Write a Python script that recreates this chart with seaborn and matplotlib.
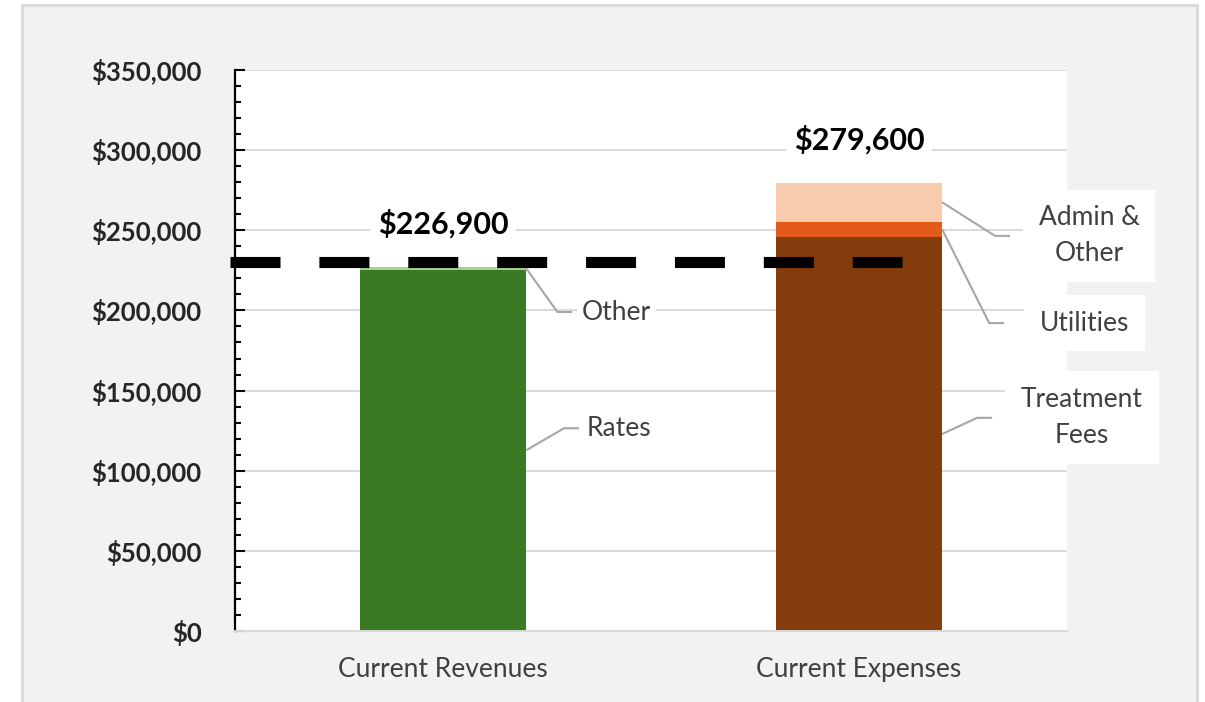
import numpy as np
import pandas as pd
import matplotlib
matplotlib.use("Agg")
import matplotlib.pyplot as plt
import seaborn as sns
from matplotlib.patches import Rectangle
from matplotlib.ticker import MultipleLocator, FuncFormatter

# Data
categories = ["Current Revenues", "Current Expenses"]
revenue_segments = ["Rates", "Other"]
revenue_values = [225500, 1400]
expense_segments = ["Treatment\nFees", "Utilities", "Admin &\nOther"]
expense_values = [245800, 9500, 24300]
target_value = 230000

revenue_colors = ["#3b7a24", "#a9d18e"]
expense_colors = ["#843c0c", "#e35b1a", "#f8cbad"]

# Build long table with stacking bottoms
rows = []
for cat, segs, vals, cols in [(categories[0], revenue_segments, revenue_values, revenue_colors),
                              (categories[1], expense_segments, expense_values, expense_colors)]:
    bottom = 0
    for s, v, c in zip(segs, vals, cols):
        rows.append(dict(category=cat, segment=s, value=v, bottom=bottom, color=c))
        bottom += v
seg_df = pd.DataFrame(rows)
totals = seg_df.groupby("category", sort=False)["value"].sum()

# Label layout: (elbow dx from bar edge, label y, text x, box pad)
label_layout = {
    "Other": (0.075, 199000, 0.417, 0.2),
    "Rates": (0.091, 126500, 0.422, 0.2),
    "Admin &\nOther": (0.127, 246500, 1.553, 0.6),
    "Utilities": (0.113, 192100, 1.543, 0.6),
    "Treatment\nFees": (0.084, 133000, 1.536, 0.6),
}
BAR_W = 0.4

sns.set_style("white")
plt.rcParams["font.family"] = ["Lato", "DejaVu Sans"]

fig = plt.figure(figsize=(12.05, 7.02), dpi=100, facecolor="white")
fig.patches.append(Rectangle((22 / 1205, -0.05), (1197 - 22) / 1205, (702 - 5) / 702 + 0.05,
                             transform=fig.transFigure, facecolor="#f2f2f2",
                             edgecolor="#d9d9d9", lw=2, zorder=-10))
ax = fig.add_axes([235 / 1205, 71 / 702, (1067 - 235) / 1205, (632 - 71) / 702])
ax.set_facecolor("white")

for r in seg_df.itertuples():
    sns.barplot(x=[r.category], y=[r.value], order=categories, color=r.color,
                width=BAR_W, bottom=r.bottom, saturation=1, errorbar=None,
                linewidth=0, edgecolor="none", ax=ax, zorder=2)

ax.set_xlim(-0.5, 1.5)
ax.set_ylim(0, 350000)
ax.yaxis.set_major_locator(MultipleLocator(50000))
ax.yaxis.set_minor_locator(MultipleLocator(10000))
ax.yaxis.set_major_formatter(FuncFormatter(lambda v, p: f"${v:,.0f}"))
ax.set_axisbelow(True)
ax.yaxis.grid(True, color="#d9d9d9", lw=1.4)
ax.xaxis.grid(False)
ax.set_xlabel("")
ax.set_ylabel("")

for s in ["top", "right"]:
    ax.spines[s].set_visible(False)
ax.spines["left"].set_color("black")
ax.spines["left"].set_linewidth(1.6)
ax.spines["bottom"].set_color("#d9d9d9")
ax.spines["bottom"].set_linewidth(1.4)

ax.tick_params(axis="y", which="major", left=True, direction="in", length=7, width=1.5,
               color="black", pad=24, labelsize=18.5)
ax.tick_params(axis="y", which="minor", left=True, direction="in", length=4.5, width=1.5,
               color="black")
for t in ax.get_yticklabels():
    t.set_fontweight("bold")
ax.tick_params(axis="x", length=0, pad=19, labelsize=19, labelcolor="#404040")

# Target dashed line
ax.plot([-0.512, 1.103], [target_value, target_value], color="black", lw=8,
        dashes=(4.5, 3.5), solid_capstyle="butt", dash_capstyle="butt",
        clip_on=False, zorder=4)

# Totals
for i, cat in enumerate(categories):
    ax.annotate(f"${totals[cat]:,.0f}", xy=(i, totals[cat]), xytext=(0, 31),
                textcoords="offset points", ha="center", va="center",
                fontsize=22, fontweight="bold", color="black",
                bbox=dict(boxstyle="square,pad=0.25", fc="white", ec="none"), zorder=5)

# Segment labels with leader lines
for r in seg_df.itertuples():
    dx, ly, tx, pad = label_layout[r.segment]
    xi = categories.index(r.category)
    x0 = xi + BAR_W / 2
    y0 = r.bottom + r.value / 2
    ax.plot([x0, x0 + dx, x0 + dx + 0.036], [y0, ly, ly], color="#a6a6a6", lw=1.5,
            clip_on=False, zorder=3, solid_capstyle="butt")
    ax.text(tx, ly, r.segment, ha="center", va="center", fontsize=19, color="#404040",
            linespacing=1.55, clip_on=False, zorder=5,
            bbox=dict(boxstyle=f"square,pad={pad}", fc="white", ec="none"))

fig.savefig("out.png", dpi=100)
